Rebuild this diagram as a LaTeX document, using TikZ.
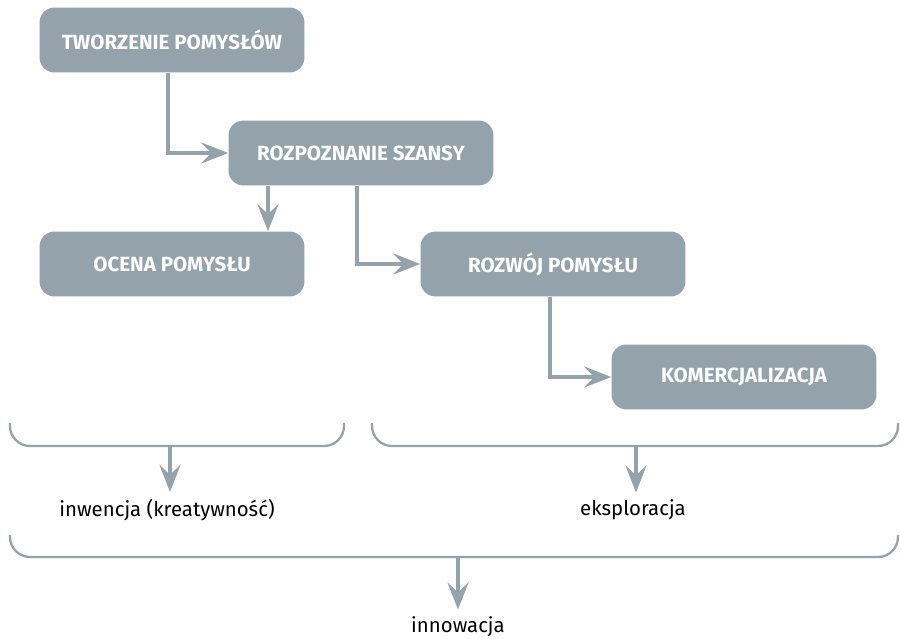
\documentclass[tikz,border=0pt]{standalone}
\usepackage{fontspec}
\setmainfont{Fira Sans}
\usetikzlibrary{arrows.meta}
\definecolor{boxgray}{HTML}{94A3AB}
\begin{document}
\begin{tikzpicture}[x=0.02cm,y=-0.02cm,
  stage/.style={fill=boxgray,rounded corners=0.3cm,minimum width=5.3cm,minimum height=1.3cm,text=white,font=\fontsize{11.7}{13}\selectfont\bfseries},
  flow/.style={draw=boxgray,line width=2.8pt,-{Stealth[length=0.54cm,width=0.42cm,inset=0.2cm]}},
  bracket/.style={draw=boxgray,line width=1.3pt,rounded corners=0.4cm},
  caption/.style={font=\fontsize{11.6}{13}\selectfont,inner sep=4pt}]
\useasboundingbox (0,0) rectangle (900,639);
\node[stage] (tw) at (172,40) {TWORZENIE POMYSŁÓW};
\node[stage] (rs) at (361,153) {ROZPOZNANIE SZANSY};
\node[stage] (oc) at (172,264) {OCENA POMYSŁU};
\node[stage] (rw) at (553,264) {ROZWÓJ POMYSŁU};
\node[stage] (km) at (744,377) {KOMERCJALIZACJA};
\draw[flow] (tw.south -| 168,0) |- (rs.west);
\draw[flow] (rs.south -| 268,0) -- (oc.north -| 268,0);
\draw[flow] (rs.south -| 357,0) |- (rw.west);
\draw[flow] (rw.south -| 550,0) |- (km.west);
% klamry
\draw[bracket] (10,423) -- (10,446) -- (344,446) -- (344,423);
\draw[bracket] (372,423) -- (372,446) -- (898,446) -- (898,423);
\draw[bracket] (10,535) -- (10,557) -- (898,557) -- (898,535);
\coordinate (b1) at (170,447);
\coordinate (b2) at (636,447);
\coordinate (b3) at (458,558);
\node[caption] (inw) at (167,510) {inwencja (kreatywność)};
\node[caption] (eks) at (633,510) {eksploracja};
\node[caption] (inn) at (458,627) {innowacja};
\draw[flow] (b1) -- (b1 |- inw.north);
\draw[flow] (b2) -- (b2 |- eks.north);
\draw[flow] (b3) -- (b3 |- inn.north);
\end{tikzpicture}
\end{document}
